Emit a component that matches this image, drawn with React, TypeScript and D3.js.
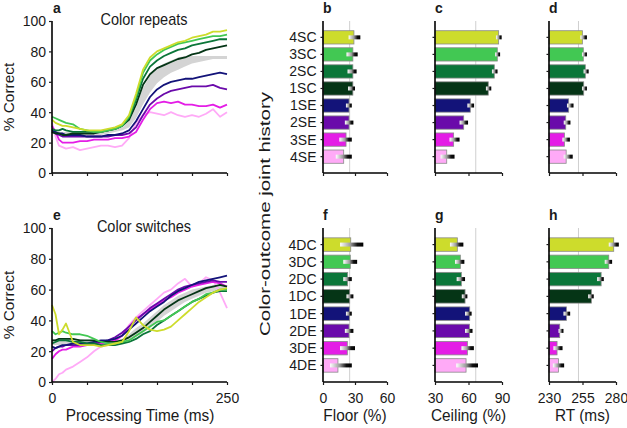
import React, { useEffect, useRef } from 'react';
import * as d3 from 'd3';

// time grid (ms) shared by all traces
const times = [0, 5, 10, 15, 20, 30, 40, 50, 60, 70, 80, 90, 100, 110, 120, 130, 140, 150, 160, 170, 180, 190, 200, 210, 220, 230, 240, 250];

// panel a: color repeats
const rep4SC = [35, 33, 32, 31, 31, 30, 29, 28, 28, 28, 29, 30, 32, 38, 52, 68, 76, 80, 82, 84, 86, 87, 89, 90, 91, 93, 93, 94];
const rep3SC = [37, 36, 35, 34, 33, 32, 29, 28, 27, 27, 28, 29, 31, 37, 50, 66, 74, 78, 81, 83, 85, 86, 87, 88, 89, 90, 90, 91];
const rep2SC = [29, 28, 28, 29, 28, 27, 27, 27, 27, 27, 28, 29, 31, 36, 48, 62, 70, 74, 77, 79, 81, 82, 84, 85, 86, 87, 88, 88];
const rep1SC = [27, 26, 26, 25, 25, 26, 26, 26, 26, 27, 28, 29, 31, 35, 45, 58, 65, 69, 71, 73, 75, 76, 78, 79, 81, 82, 83, 84];
const rep1SE = [28, 27, 26, 26, 25, 25, 25, 24, 24, 24, 25, 25, 26, 28, 34, 42, 50, 55, 58, 60, 61, 62, 62, 63, 64, 65, 66, 65];
const rep2SE = [27, 26, 25, 24, 24, 24, 24, 24, 24, 24, 24, 25, 25, 26, 30, 38, 45, 49, 52, 54, 55, 56, 57, 57, 57, 58, 56, 55];
const rep3SE = [31, 27, 22, 20, 20, 20, 21, 21, 22, 22, 22, 23, 23, 24, 27, 35, 42, 46, 47, 46, 47, 45, 45, 44, 44, 45, 43, 45];
const rep4SE = [33, 24, 18, 17, 16, 17, 15, 16, 17, 18, 18, 17, 18, 23, 33, 38, 40, 39, 38, 40, 38, 37, 38, 37, 39, 42, 37, 40];
const repBandHi = [28, 28, 27, 27, 27, 27, 27, 27, 27, 27, 28, 29, 30, 34, 43, 56, 64, 69, 72, 74, 76, 77, 77, 77, 77, 77, 77, 77];
const repBandLo = [26, 26, 25, 25, 25, 25, 25, 25, 25, 25, 26, 27, 28, 30, 36, 45, 53, 59, 63, 66, 68, 70, 72, 73, 74, 75, 75, 75];

// panel e: color switches
const sw4DC = [50, 44, 31, 34, 38, 26, 24, 24, 24, 23, 24, 25, 26, 33, 42, 37, 34, 33, 34, 36, 40, 44, 48, 52, 55, 58, 60, 61];
const sw3DC = [33, 31, 32, 33, 32, 31, 31, 30, 28, 26, 25, 25, 26, 27, 30, 33, 36, 39, 40, 43, 46, 49, 52, 54, 57, 58, 60, 60];
const sw2DC = [25, 26, 27, 27, 27, 26, 26, 25, 25, 24, 24, 24, 25, 26, 28, 31, 33, 37, 40, 43, 46, 49, 52, 54, 56, 58, 59, 59];
const sw1DC = [27, 27, 28, 28, 28, 28, 27, 27, 27, 26, 26, 26, 27, 29, 32, 35, 39, 43, 47, 50, 53, 55, 57, 59, 61, 62, 63, 62];
const sw1DE = [23, 22, 23, 24, 24, 25, 25, 25, 26, 27, 27, 28, 30, 34, 38, 42, 46, 49, 52, 56, 59, 61, 63, 65, 66, 67, 68, 69];
const sw2DE = [20, 22, 23, 23, 24, 24, 24, 24, 25, 26, 27, 29, 32, 36, 40, 44, 48, 51, 54, 57, 60, 62, 63, 64, 65, 66, 65, 65];
const sw3DE = [15, 18, 20, 21, 21, 23, 23, 24, 24, 25, 26, 27, 30, 36, 41, 44, 47, 50, 53, 55, 58, 60, 62, 63, 64, 65, 64, 62];
const sw4DE = [0, 2, 5, 6, 8, 10, 13, 16, 20, 23, 24, 26, 30, 37, 42, 46, 50, 54, 58, 60, 64, 67, 62, 64, 68, 66, 58, 48];
const swBandHi = [28, 28, 28, 28, 28, 28, 28, 27, 27, 27, 27, 27, 28, 31, 35, 38, 42, 46, 50, 53, 56, 58, 60, 61, 62, 63, 63, 62];
const swBandLo = [24, 24, 24, 24, 24, 24, 24, 24, 24, 24, 24, 24, 25, 27, 29, 32, 35, 39, 43, 46, 49, 52, 54, 56, 58, 59, 60, 60];

// bar categories
const repeatLabels = ['4SC', '3SC', '2SC', '1SC', '1SE', '2SE', '3SE', '4SE'];
const switchLabels = ['4DC', '3DC', '2DC', '1DC', '1DE', '2DE', '3DE', '4DE'];
const colors = ['#cddc2c', '#42c853', '#0b7639', '#053516', '#131379', '#6a0aaa', '#e41de6', '#ffaaf7'];

// bar values and error ranges
const floorRep = [29, 28, 28, 28, 24.4, 24.4, 21.6, 19.4];
const floorRepLo = [24, 22, 23, 23.5, 21.5, 20.5, 15.3, 12];
const floorRepHi = [35, 32.5, 31.5, 30, 27, 28.5, 27, 27];
const ceilRep = [87, 85.8, 83.1, 77.7, 61.6, 55.7, 46.7, 40.5];
const ceilRepLo = [84.6, 83.8, 81, 75.6, 59, 52, 43, 35];
const ceilRepHi = [89.7, 88.3, 86, 80.4, 65, 59.6, 52, 47.5];
const rtRep = [254.9, 255.6, 257.1, 255.9, 244.7, 242.5, 241.5, 242.8];
const rtRepLo = [253.4, 254.6, 255.8, 254.6, 243.4, 241, 240, 241];
const rtRepHi = [258.3, 258.3, 259.6, 258.3, 248.3, 246, 245.6, 247.7];

const floorSw = [26, 25.6, 23.1, 25, 24.7, 24.4, 22.8, 14];
const floorSwLo = [16, 19, 19, 22, 21.5, 20.5, 16, 6.6];
const floorSwHi = [37.8, 32, 27, 28.5, 27, 28.5, 30, 27];
const ceilSw = [50, 52.7, 53.6, 56.9, 61.1, 60.8, 59, 57.8];
const ceilSwLo = [43.4, 47.9, 49.4, 54, 56.9, 56.9, 53.7, 49];
const ceilSwHi = [55.4, 56.3, 56.9, 59, 62.8, 63.6, 64.8, 68.5];
const rtSw = [278.3, 274.6, 268.9, 261.6, 243, 238, 236, 237];
const rtSwLo = [274.6, 271.6, 265.9, 259.2, 240.8, 237.1, 233.3, 232.9];
const rtSwHi = [282.1, 277.1, 270.9, 263.4, 245.8, 240.8, 240.1, 241.3];

const floorTicks = [0, 30, 60];
const ceilTicks = [30, 60, 90];
const rtTicks = [230, 255, 280];
const timeTicks = [0, 50, 100, 150, 200, 250];
const pctTicks = [0, 20, 40, 60, 80, 100];

const FONT = '"Liberation Sans", Arial, Helvetica, sans-serif';
const SY = 1.1; // the original lettering is a touch taller than wide

const App: React.FC = () => {
  const svgRef = useRef<SVGSVGElement>(null);

  useEffect(() => {
    if (!svgRef.current) return;
    const svg = d3.select(svgRef.current);
    svg.selectAll('*').remove();
    svg.style('font-family', FONT).attr('fill', '#1a1a1a');

    // gradient for the error bars (white -> black)
    const defs = svg.append('defs');
    const grad = defs.append('linearGradient').attr('id', 'errGrad').attr('x1', '0%').attr('x2', '100%');
    grad.append('stop').attr('offset', '0%').attr('stop-color', '#ffffff');
    grad.append('stop').attr('offset', '45%').attr('stop-color', '#9a9a9a');
    grad.append('stop').attr('offset', '75%').attr('stop-color', '#111');
    grad.append('stop').attr('offset', '100%').attr('stop-color', '#000');

    // plain text helper, stretched slightly in y
    const label = (x: number, y: number, txt: string, size: number, anchor = 'start', bold = false) =>
      svg.append('text')
        .attr('transform', `translate(${x},${y}) scale(1,${SY})`)
        .attr('text-anchor', anchor)
        .style('font-size', `${size}px`)
        .style('font-weight', bold ? 'bold' : 'normal')
        .attr('fill', '#1a1a1a')
        .text(txt);

    const styleTicks = (a: d3.Selection<SVGGElement, unknown, null, undefined>, size: number) => {
      a.selectAll('text')
        .style('font-size', `${size}px`).style('font-family', FONT).attr('fill', '#1a1a1a')
        .attr('transform', `scale(1,${SY})`);
      a.selectAll('line').attr('stroke', '#1a1a1a').attr('stroke-width', 1.2);
    };

    const x0 = 52, x1 = 227;

    const drawLinePanel = (
      top: number, bottom: number, letter: string, title: string,
      series: number[][], bandHi: number[], bandLo: number[], showX: boolean
    ) => {
      const x = d3.scaleLinear().domain([0, 250]).range([x0, x1]);
      const y = d3.scaleLinear().domain([0, 100]).range([bottom, top]);
      const g = svg.append('g');

      const area = d3.area<number>()
        .x((_, i) => x(times[i]))
        .y0((_, i) => y(bandLo[i]))
        .y1((d) => y(d));
      g.append('path').datum(bandHi).attr('d', area).attr('fill', '#d4d4d4');

      const line = d3.line<number>().x((_, i) => x(times[i])).y((d) => y(d));
      // errors underneath, corrects on top
      [7, 6, 5, 4, 3, 2, 1, 0].forEach((k) => {
        g.append('path').datum(series[k]).attr('d', line)
          .attr('fill', 'none').attr('stroke', colors[k]).attr('stroke-width', 1.8)
          .attr('stroke-linejoin', 'round');
      });

      const yAxis = g.append('g').attr('transform', `translate(${x0},0)`)
        .call(d3.axisLeft(y).tickValues(pctTicks).tickSize(3).tickPadding(3));
      styleTicks(yAxis, 14);
      const xAxis = g.append('g').attr('transform', `translate(0,${bottom})`)
        .call(d3.axisBottom(x).tickValues(timeTicks).tickSize(3).tickPadding(6)
          .tickFormat((d) => (showX && (d === 0 || d === 250) ? String(d) : '')));
      styleTicks(xAxis, 14);
      yAxis.select('.domain').attr('d', `M0,${top}V${bottom}`).attr('stroke-width', 1.6);
      xAxis.select('.domain').attr('d', `M${x0},0H${x1}`).attr('stroke-width', 1.6);

      label(53, top - 8, letter, 14, 'start', true);
      label(144, top + 4, title, 14.5, 'middle');
      svg.append('text')
        .attr('transform', `translate(14,${(top + bottom) / 2}) rotate(-90)`)
        .attr('text-anchor', 'middle').style('font-size', '15.4px').attr('fill', '#1a1a1a')
        .text('% Correct');
    };

    drawLinePanel(21, 173, 'a', 'Color repeats',
      [rep4SC, rep3SC, rep2SC, rep1SC, rep1SE, rep2SE, rep3SE, rep4SE], repBandHi, repBandLo, false);
    drawLinePanel(228, 382, 'e', 'Color switches',
      [sw4DC, sw3DC, sw2DC, sw1DC, sw1DE, sw2DE, sw3DE, sw4DE], swBandHi, swBandLo, true);

    label(140, 421, 'Processing Time (ms)', 15.4, 'middle');
    svg.append('text')
      .attr('transform', 'translate(270,214) rotate(-90)')
      .attr('text-anchor', 'middle').style('font-size', '15px').attr('fill', '#1a1a1a')
      .attr('textLength', 244).attr('lengthAdjust', 'spacingAndGlyphs')
      .text('Color-outcome joint history');

    const drawBarPanel = (
      left: number, right: number, top: number, bottom: number, letter: string,
      labels: string[], vals: number[], lo: number[], hi: number[],
      domain: [number, number], ticks: number[], refLine: number,
      showLabels: boolean, xTitle: string | null
    ) => {
      const x = d3.scaleLinear().domain(domain).range([left, right]);
      const y = d3.scaleBand<string>().domain(labels).range([top, bottom]).paddingInner(0.22).paddingOuter(0.57);
      const g = svg.append('g');

      g.append('line').attr('x1', x(refLine)).attr('x2', x(refLine))
        .attr('y1', top).attr('y2', bottom).attr('stroke', '#cfcfcf').attr('stroke-width', 1);

      g.selectAll('.bar').data(vals).enter().append('rect')
        .attr('x', x(domain[0]))
        .attr('y', (_, i) => y(labels[i]) as number)
        .attr('width', (d) => x(d) - x(domain[0]))
        .attr('height', y.bandwidth())
        .attr('fill', (_, i) => colors[i])
        .attr('stroke', '#8a8a8a').attr('stroke-width', 0.8);

      g.selectAll('.err').data(vals).enter().append('rect')
        .attr('x', (_, i) => x(lo[i]))
        .attr('y', (_, i) => (y(labels[i]) as number) + y.bandwidth() / 2 - 2)
        .attr('width', (_, i) => x(hi[i]) - x(lo[i]))
        .attr('height', 4)
        .attr('fill', 'url(#errGrad)');

      const yAxis = g.append('g').attr('transform', `translate(${left},0)`)
        .call(d3.axisLeft(y).tickSize(2.5).tickPadding(4).tickFormat((d) => (showLabels ? d : '')));
      yAxis.select('.domain').attr('d', `M0,${top}V${bottom}`).attr('stroke-width', 1.6);
      styleTicks(yAxis, 14);

      const xAxis = g.append('g').attr('transform', `translate(0,${bottom})`)
        .call(d3.axisBottom(x).tickValues(ticks).tickSize(3).tickPadding(6)
          .tickFormat((d) => (xTitle ? String(d) : '')));
      xAxis.select('.domain').attr('d', `M${left},0H${right}`).attr('stroke-width', 1.6);
      styleTicks(xAxis, 14);

      label(left, top - 8, letter, 14, 'start', true);
      if (xTitle) label((left + right) / 2, 421, xTitle, 15.4, 'middle');
    };

    drawBarPanel(323, 387, 21, 173, 'b', repeatLabels, floorRep, floorRepLo, floorRepHi, [0, 60], floorTicks, 25, true, null);
    drawBarPanel(435, 502, 21, 173, 'c', repeatLabels, ceilRep, ceilRepLo, ceilRepHi, [30, 90], ceilTicks, 66.5, false, null);
    drawBarPanel(549, 616, 21, 173, 'd', repeatLabels, rtRep, rtRepLo, rtRepHi, [230, 280], rtTicks, 252, false, null);
    drawBarPanel(323, 387, 228, 382, 'f', switchLabels, floorSw, floorSwLo, floorSwHi, [0, 60], floorTicks, 25, true, 'Floor (%)');
    drawBarPanel(435, 502, 228, 382, 'g', switchLabels, ceilSw, ceilSwLo, ceilSwHi, [30, 90], ceilTicks, 66.5, false, 'Ceiling (%)');
    drawBarPanel(549, 616, 228, 382, 'h', switchLabels, rtSw, rtSwLo, rtSwHi, [230, 280], rtTicks, 252, false, 'RT (ms)');
  }, []);

  return (
    <svg
      ref={svgRef}
      width={627}
      height={428}
      style={{ position: 'absolute', left: 0, top: 0, background: '#fff' }}
    />
  );
};

export default App;
